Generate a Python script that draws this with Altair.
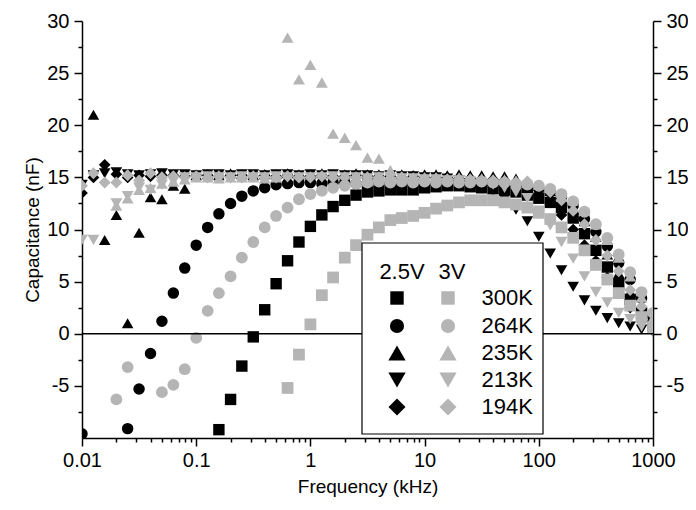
import altair as alt
import pandas as pd

# Frequencies (kHz), 10 points per decade
freq = [0.01, 0.0126, 0.0158, 0.02, 0.0251, 0.0316, 0.0398, 0.0501, 0.0631, 0.0794,
        0.1, 0.126, 0.158, 0.2, 0.251, 0.316, 0.398, 0.501, 0.631, 0.794,
        1, 1.26, 1.58, 2, 2.51, 3.16, 3.98, 5.01, 6.31, 7.94,
        10, 12.6, 15.8, 20, 25.1, 31.6, 39.8, 50.1, 63.1, 79.4,
        100, 126, 158, 200, 251, 316, 398, 501, 631, 794, 1000]

N = None
# 2.5 V series (black)
sq_25 = [N, N, N, N, N, N, N, N, N, N,
         N, N, -9.2, -6.3, -3.1, -0.3, 2.3, 4.8, 7.0, 8.8,
         10.3, 11.4, 12.2, 12.8, 13.3, 13.6, 13.7, 13.8, 13.8, 13.8,
         14.0, 14.1, 14.2, 14.2, 14.1, 14.0, 13.9, 13.8, 13.6, 13.3,
         13.0, 12.6, 12.1, 11.1, 9.6, 8.0, 6.4, 4.8, 3.3, 2.0, 0.8]
ci_25 = [-9.6, N, N, N, -9.1, -5.3, -1.9, 1.2, 3.9, 6.3,
         8.5, 10.2, 11.5, 12.5, 13.2, 13.7, 14.0, 14.3, 14.4, 14.5,
         14.5, 14.4, 14.5, 14.5, 14.4, 14.5, 14.5, 14.4, 14.5, 14.4,
         14.5, 14.4, 14.4, 14.5, 14.4, 14.3, 14.4, 14.3, 14.2, 14.0,
         13.9, 13.6, 13.1, 12.3, 11.0, 9.8, 8.4, 6.8, 5.2, 3.4, 1.6]
tu_25 = [N, 21.0, 9.0, 11.4, 1.0, 9.7, 13.1, 12.9, 14.2, 13.9,
         15.2, 15.3, 15.2, 15.4, 15.3, 15.2, 15.3, 15.3, 15.4, 15.3,
         15.3, 15.4, 15.3, 15.3, 15.4, 15.3, 15.3, 15.3, 15.3, 15.2,
         15.3, 15.3, 15.2, 15.3, 15.2, 15.2, 15.1, 15.1, 14.9, 14.6,
         14.2, 13.7, 13.0, 12.0, 10.8, 9.3, 7.6, 5.8, 4.0, 2.4, 0.9]
td_25 = [14.3, 15.2, 15.4, 15.5, 15.3, 15.2, 15.3, 15.4, 15.3, 15.3,
         15.2, 15.3, 15.3, 15.2, 15.3, 15.3, 15.2, 15.3, 15.3, 15.2,
         15.3, 15.2, 15.3, 15.2, 15.2, 15.2, 15.1, 15.2, 15.1, 15.1,
         15.0, 15.0, 14.9, 14.7, 14.4, 14.1, 13.6, 12.9, 11.9, 10.8,
         9.3, 7.7, 6.1, 4.5, 3.2, 2.2, 1.5, 1.0, 0.7, 0.4, 0.2]
di_25 = [13.5, 15.0, 16.2, 15.3, 15.0, 15.2, 15.1, 15.2, 15.2, 15.1,
         15.2, 15.2, 15.1, 15.2, 15.2, 15.1, 15.2, 15.1, 15.2, 15.1,
         15.1, 15.2, 15.1, 15.1, 15.2, 15.1, 15.1, 15.1, 15.0, 15.1,
         15.0, 15.0, 15.0, 14.9, 14.9, 14.8, 14.8, 14.7, 14.4, 14.0,
         13.4, 12.6, 11.4, 10.0, 8.5, 7.0, 5.4, 3.9, 2.5, 1.2, 0.3]
# 3 V series (grey)
sq_3 = [N, N, N, N, N, N, N, N, N, N,
        N, N, N, N, N, N, N, N, -5.2, -2.0,
        0.9, 3.7, 5.4, 7.3, 8.5, 9.5, 10.2, 10.9, 11.1, 11.3,
        11.6, 12.0, 12.3, 12.6, 12.8, 12.8, 12.8, 12.6, 12.4, 12.1,
        11.6, 11.0, 10.2, 9.2, 8.0, 6.6, 5.2, 3.9, 2.7, 1.6, 0.6]
ci_3 = [N, N, N, -6.3, -3.2, N, N, -5.6, -4.9, -3.4,
        -0.4, 2.2, 3.9, 5.5, 7.3, 8.8, 10.2, 11.3, 12.1, 12.9,
        13.4, 13.7, 14.0, 14.2, 14.4, 14.5, 14.6, 14.5, 14.6, 14.5,
        14.6, 14.5, 14.6, 14.5, 14.5, 14.6, 14.5, 14.5, 14.4, 14.3,
        14.2, 13.9, 13.4, 12.7, 11.7, 10.5, 9.2, 7.6, 5.9, 4.0, 2.0]
tu_3 = [N, N, N, 12.3, 13.0, 13.8, 14.0, 14.4, 14.6, 14.8,
        15.0, 15.0, 14.9, 15.0, 15.0, 15.0, 14.9, 15.0, 28.4, 24.4,
        25.8, 24.1, 19.2, 18.8, 18.1, 16.9, 16.8, 15.7, 15.0, 15.0,
        15.0, 15.0, 14.9, 15.0, 14.9, 14.9, 14.8, 14.8, 14.7, 14.5,
        14.3, 14.0, 13.5, 12.8, 11.8, 10.5, 9.0, 7.3, 5.5, 3.5, 1.5]
td_3 = [9.0, 9.0, N, 12.5, 13.2, 14.0, 13.8, 14.3, 14.6, 15.0,
        15.0, 15.1, 15.0, 15.0, 15.1, 15.0, 15.0, 15.1, 15.0, 15.0,
        15.0, 15.0, 15.1, 15.0, 15.0, 14.9, 15.0, 14.9, 14.9, 14.9,
        14.8, 14.8, 14.7, 14.7, 14.6, 14.5, 14.3, 14.0, 13.6, 13.0,
        11.8, 10.4, 8.8, 7.2, 5.5, 4.0, 3.0, 2.0, 1.4, 0.7, 0.2]
di_3 = [14.2, 15.4, 14.5, 14.5, 15.2, 14.7, 15.4, 15.0, 15.1, 15.0,
        15.1, 15.0, 15.1, 15.0, 15.0, 15.1, 15.0, 15.0, 15.1, 15.0,
        15.0, 15.1, 15.0, 15.0, 15.0, 15.0, 15.0, 14.9, 15.0, 14.9,
        14.9, 14.9, 14.8, 14.8, 14.8, 14.7, 14.7, 14.6, 14.5, 14.6,
        14.2, 13.6, 12.8, 11.8, 10.5, 9.0, 7.5, 6.0, 4.2, 2.6, 1.0]

temps = ["300K", "264K", "235K", "213K", "194K"]
volts = ["2.5V", "3V"]
shapes = ["square", "circle", "triangle-up", "triangle-down", "diamond"]
sizes = [130, 145, 210, 210, 240]
series = {"2.5V": [sq_25, ci_25, tu_25, td_25, di_25],
          "3V": [sq_3, ci_3, tu_3, td_3, di_3]}
colours = {"2.5V": "#000000", "3V": "#b5b5b5"}

rows = []
for volt in volts:
    for t, vals in zip(temps, series[volt]):
        for f, c in zip(freq, vals):
            if c is not None:
                rows.append({"f": f, "c": c, "key": volt + " " + t})
df = pd.DataFrame(rows)

keys = [v + " " + t for v in volts for t in temps]
key_shapes = shapes * 2
key_sizes = sizes * 2
key_colours = [colours[v] for v in volts for _ in temps]

FONT = "Liberation Sans"
x_vals = []
for d in [0.01, 0.1, 1, 10, 100]:
    for m in range(1, 10):
        x_vals.append(round(d * m, 6))
x_vals.append(1000)
y_vals = [v / 2 for v in range(-15, 61, 5)]

xscale = alt.Scale(type="log", domain=[0.01, 1000], nice=False)
yscale = alt.Scale(domain=[-10, 30], nice=False, zero=False)

MAJ_X = "abs(log(datum.value)/LN10 - round(log(datum.value)/LN10)) < 0.001"
x_axis = alt.Axis(
    values=x_vals, labelOverlap=False,
    labelExpr=MAJ_X + " ? '' + datum.value : ''",
    tickSize={"condition": {"test": MAJ_X, "value": 8}, "value": 4},
    title="Frequency (kHz)", grid=False, domainColor="black", domainWidth=1.5,
    tickColor="black", tickWidth=1.5, labelFont=FONT, labelFontSize=20,
    labelColor="black", titleFont=FONT, titleFontSize=19, titleFontWeight="normal",
    titleColor="black", labelPadding=4, titlePadding=7, labelFlush=False)


def y_axis(orient, title):
    return alt.Axis(
        orient=orient, values=y_vals, labelOverlap=False,
        labelExpr="datum.value % 5 == 0 && datum.value > -10 ? '' + datum.value : ''",
        tickSize={"condition": {"test": "datum.value % 5 == 0", "value": 8}, "value": 4},
        title=title, grid=False, domainColor="black", domainWidth=1.5,
        tickColor="black", tickWidth=1.5, labelFont=FONT, labelFontSize=20,
        labelColor="black", titleFont=FONT, titleFontSize=19,
        titleFontWeight="normal", titleColor="black", labelPadding=5,
        titlePadding=4, labelFlush=False)


points = alt.Chart(df).mark_point(filled=True, opacity=1, clip=True).encode(
    x=alt.X("f:Q", scale=xscale, axis=x_axis),
    y=alt.Y("c:Q", scale=yscale, axis=y_axis("left", "Capacitance (nF)")),
    shape=alt.Shape("key:N", scale=alt.Scale(domain=keys, range=key_shapes), legend=None),
    size=alt.Size("key:N", scale=alt.Scale(domain=keys, range=key_sizes), legend=None),
    color=alt.Color("key:N", scale=alt.Scale(domain=keys, range=key_colours), legend=None),
)

# hand-drawn legend box in the lower middle of the plot (pixel placement)
legend_layers = [
    alt.Chart(pd.DataFrame({"a": [0]})).mark_rect(
        fill="white", stroke="black", strokeWidth=1.2).encode(
        x=alt.value(280), x2=alt.value(461), y=alt.value(222), y2=alt.value(413)),
]
for txt, px in (("2.5V", 320), ("3V", 370)):
    legend_layers.append(
        alt.Chart(pd.DataFrame({"t": [txt]})).mark_text(
            font=FONT, fontSize=22, color="black", align="center", baseline="middle").encode(
            x=alt.value(px), y=alt.value(251), text="t:N"))
row_px = [277, 305, 332, 359, 386]
lsizes = [180, 200, 300, 300, 290]
for volt, px in (("2.5V", 315), ("3V", 366)):
    for t, shp, sz, py in zip(temps, shapes, lsizes, row_px):
        legend_layers.append(
            alt.Chart(pd.DataFrame({"k": [volt + " " + t]})).mark_point(
                shape=shp, size=sz, filled=True, opacity=1, color=colours[volt]).encode(
                x=alt.value(px), y=alt.value(py)))
for t, py in zip(temps, row_px):
    legend_layers.append(
        alt.Chart(pd.DataFrame({"t": [t]})).mark_text(
            font=FONT, fontSize=22, color="black", align="right", baseline="middle").encode(
            x=alt.value(451), y=alt.value(py), text="t:N"))

zero_rule = alt.Chart(pd.DataFrame({"c": [0]})).mark_rule(
    color="black", strokeWidth=1.5).encode(
    y=alt.Y("c:Q", scale=yscale, axis=y_axis("right", None)))

chart = alt.layer(points, zero_rule, *legend_layers).resolve_scale(
    y="independent").properties(
    width=571, height=417,
    autosize=alt.AutoSizeParams(type="none"),
    padding={"left": 74, "top": 13, "right": 35, "bottom": 64},
).configure_view(stroke=None)

chart.save("out.html", embed_options={"renderer": "svg", "actions": False})
